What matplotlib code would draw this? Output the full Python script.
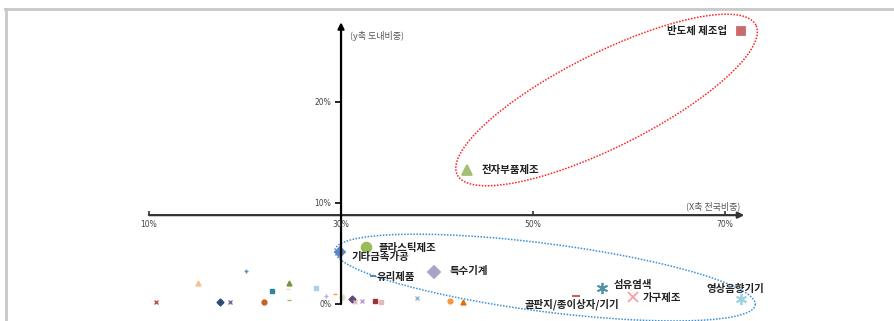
import numpy as np
import matplotlib.pyplot as plt
from matplotlib.lines import Line2D

plt.rcParams['font.family'] = ['Noto Sans CJK KR', 'DejaVu Sans']

# labelled industries (x: 전국비중 %, y: 도내비중 %)
names = ['반도체 제조업', '전자부품제조', '플라스틱제조', '기타금속가공', '유리제품',
         '특수기계', '섬유염색', '골판지/종이상자/기기', '가구제조', '영상음향기기']
x_named = [71.7, 43.1, 32.6, 29.9, 33.3, 39.7, 57.2, 54.5, 60.4, 71.7]
y_named = [27.0, 13.3, 5.6, 5.2, 2.8, 3.2, 1.6, 0.8, 0.7, 0.5]

# unlabelled small industries
x_small = [10.7, 15.1, 20.1, 17.4, 18.4, 22.0, 24.6, 24.5, 24.6, 22.8, 27.4,
           28.4, 29.4, 30.1, 31.1, 31.5, 32.2, 33.5, 34.2, 37.9, 41.4, 42.7]
y_small = [0.2, 2.1, 3.3, 0.2, 0.2, 0.2, 2.1, 1.5, 0.4, 1.3, 1.6,
           0.8, 1.0, 0.7, 0.5, 0.2, 0.3, 0.3, 0.2, 0.6, 0.3, 0.2]

x_ticks = [10, 30, 50, 70]
y_ticks = [0, 10, 20]

# styles
star = (6, 2, 0)
named_style = [('s', '#CB6A6A', 6), ('^', '#A2BF72', 7), ('o', '#9BBB59', 7),
               ('D', '#5B87C5', 5), ('_', '#4F81BD', 5), ('D', '#A9A2C9', 6),
               (star, '#4E93A8', 8), ('_', '#C0504D', 6), ('x', '#F2A3A3', 7),
               (star, '#9DD2E0', 8)]
named_off = [(-14, 0, 'right'), (15, 0, 'left'), (13, 0, 'left'), (11, -5, 'left'),
             (4, -1, 'left'), (15, 1, 'left'), (12, 3, 'left'), (-4, -8, 'center'),
             (10, -1, 'left'), (-6, 10, 'center')]
small_style = [('x', '#C0504D'), ('^', '#FABF8F'), ('+', '#5F8BCB'), ('D', '#2C4D75'),
               ('x', '#8064A2'), ('o', '#C46321'), ('^', '#77933C'), ('_', '#D7E4BD'),
               ('_', '#9BBB59'), ('s', '#31859C'), ('s', '#A9D3E3'), ('+', '#B9B0DA'),
               ('_', '#F79646'), ('o', '#D7E4BD'), ('D', '#604A7B'), ('x', '#E6B9B8'),
               ('x', '#B3A2C7'), ('s', '#953735'), ('s', '#E6B9B8'), ('x', '#95B3D7'),
               ('o', '#F79646'), ('^', '#E46C0A')]

fig = plt.figure(figsize=(8.95, 3.21), dpi=100)
ax = fig.add_axes([0, 0, 1, 1])
ax.set_xlim(-5.52, 87.7)
ax.set_ylim(-1.68, 30.1)
ax.axis('off')

# pixels per data unit, used to keep the group ellipses round in screen space
px_x = 895 / (87.7 + 5.52)
px_y = 321 / (30.1 + 1.68)


def group_ellipse(cx, cy, a, b, deg, color):
    t = np.linspace(0, 2 * np.pi, 400)
    th = np.radians(deg)
    ex = cx + (a * np.cos(t) * np.cos(th) - b * np.sin(t) * np.sin(th)) / px_x
    ey = cy + (a * np.cos(t) * np.sin(th) + b * np.sin(t) * np.cos(th)) / px_y
    ax.plot(ex, ey, color=color, ls=(0, (1, 1)), lw=1.1)


# frame lines (top and left)
fig.add_artist(Line2D([0.006, 1.0], [0.972, 0.972], color='#C8C8C8', lw=2.0))
fig.add_artist(Line2D([0.007, 0.007], [0.0, 0.972], color='#C8C8C8', lw=2.0))

# crossed axes
x_cross = 30
y_cross = 8.8
ax.annotate('', xy=(72.0, y_cross), xytext=(10, y_cross),
            arrowprops=dict(arrowstyle='-|>', color='#333333', lw=1.6,
                            mutation_scale=9, shrinkA=0, shrinkB=0))
ax.annotate('', xy=(x_cross, 27.9), xytext=(x_cross, 0),
            arrowprops=dict(arrowstyle='-|>', color='black', lw=1.6,
                            mutation_scale=9, shrinkA=0, shrinkB=0))
ax.plot(x_ticks, [y_cross] * len(x_ticks), ls='none', marker=2, ms=3,
        mew=1.2, color='#333333')
ax.plot([x_cross] * len(y_ticks), y_ticks, ls='none', marker=0, ms=4,
        mew=1.2, color='black')
for t in x_ticks:
    ax.annotate(f'{t}%', (t, y_cross), xytext=(0, -9), textcoords='offset pixels',
                ha='center', va='center', fontsize=5.5, color='#444444',
                family='DejaVu Sans')
for t in y_ticks:
    ax.annotate(f'{t}%', (x_cross, t), xytext=(-10, 0), textcoords='offset pixels',
                ha='right', va='center', fontsize=5.5, color='#444444',
                family='DejaVu Sans')
ax.annotate('(y축 도내비중)', (x_cross, 27.9), xytext=(9, -14),
            textcoords='offset pixels', ha='left', va='center',
            fontsize=6.5, color='#555555', style='italic')
ax.annotate('(X축 전국비중)', (72.0, y_cross), xytext=(-4, 9),
            textcoords='offset pixels', ha='right', va='center',
            fontsize=6.5, color='#555555', style='italic')

# group ellipses (semi axes in pixels)
group_ellipse(57.66, 20.2, 167, 47, 26.6, '#FF2020')
group_ellipse(51.25, 2.62, 212, 34, -7.4, '#3A8FD6')

# small points
for xs, ys, (m, c) in zip(x_small, y_small, small_style):
    ax.plot(xs, ys, ls='none', marker=m, ms=3.5, mew=1.0, color=c)

# labelled points
for name, xs, ys, (m, c, s), (dx, dy, ha) in zip(names, x_named, y_named,
                                                  named_style, named_off):
    ax.plot(xs, ys, ls='none', marker=m, ms=s, mew=1.3, color=c)
    ax.annotate(name, (xs, ys), xytext=(dx, dy), textcoords='offset pixels',
                ha=ha, va='center', fontsize=7.5, fontweight='bold', color='#222222')

fig.savefig('out.png', dpi=100)
